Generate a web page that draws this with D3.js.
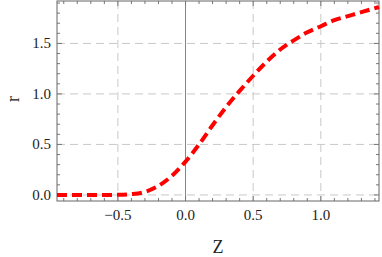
<!DOCTYPE html>
<html>
    <head>
        <meta charset="utf-8">
        <script src="https://d3js.org/d3.v7.min.js"></script>
        <style>
            body { margin: 0; background: #fff; }
            svg text { font-family: 'Liberation Serif', serif; fill: #222; }
        </style>
    </head>
    <body>
        <svg height='257' width='382'></svg>

        <script>
            // curve r(Z)
            const zValues = [-0.95, -0.8, -0.7, -0.6, -0.5, -0.4, -0.3, -0.2, -0.1, 0, 0.1, 0.2, 0.3, 0.4, 0.5, 0.6, 0.7, 0.8, 0.9, 1.0, 1.1, 1.2, 1.3, 1.43];
            const rValues = [0, 0, 0, 0, 0.001, 0.008, 0.03, 0.09, 0.19, 0.33, 0.5, 0.69, 0.87, 1.03, 1.18, 1.32, 1.44, 1.53, 1.61, 1.67, 1.73, 1.77, 1.81, 1.86];
            const xTicks = [-0.5, 0, 0.5, 1.0];
            const yTicks = [0, 0.5, 1.0, 1.5];

            const svg = d3.select('svg');
            const mLeft = 57, mRight = 379, mTop = 1, mBottom = 201;

            const x = d3.scaleLinear().domain([-0.95, 1.43]).range([mLeft, mRight]);
            const y = d3.scaleLinear().domain([-0.06, 1.92]).range([mBottom, mTop]);

            const data = zValues.map((z, i) => ({z, r: rValues[i]}));

            // grid
            svg.append('g').selectAll('line').data(xTicks.filter(d => d !== 0)).enter().append('line')
                .attr('x1', d => x(d)).attr('x2', d => x(d))
                .attr('y1', mTop).attr('y2', mBottom)
                .attr('stroke', '#c8c8c8').attr('stroke-dasharray', '8,5');
            svg.append('g').selectAll('line').data(yTicks).enter().append('line')
                .attr('x1', mLeft).attr('x2', mRight)
                .attr('y1', d => y(d)).attr('y2', d => y(d))
                .attr('stroke', '#c8c8c8').attr('stroke-dasharray', '8,5');

            // axis line at Z = 0
            svg.append('line')
                .attr('x1', x(0)).attr('x2', x(0)).attr('y1', mTop).attr('y2', mBottom)
                .attr('stroke', '#666').attr('stroke-width', 0.8);

            // frame with inward ticks on all sides
            const tickCol = '#777';
            const xMinor = d3.range(-0.9, 1.43, 0.1).map(d => +d.toFixed(1));
            const yMinor = d3.range(0, 1.92, 0.1).map(d => +d.toFixed(1));
            const isMajor = d => Math.abs(d * 2 - Math.round(d * 2)) < 1e-6;

            const frame = svg.append('g');
            xMinor.forEach(d => {
                const len = isMajor(d) ? 5 : 3;
                frame.append('line').attr('x1', x(d)).attr('x2', x(d)).attr('y1', mBottom).attr('y2', mBottom - len).attr('stroke', tickCol);
                frame.append('line').attr('x1', x(d)).attr('x2', x(d)).attr('y1', mTop).attr('y2', mTop + len).attr('stroke', tickCol);
            });
            yMinor.forEach(d => {
                const len = isMajor(d) ? 5 : 3;
                frame.append('line').attr('x1', mLeft).attr('x2', mLeft + len).attr('y1', y(d)).attr('y2', y(d)).attr('stroke', tickCol);
                frame.append('line').attr('x1', mRight).attr('x2', mRight - len).attr('y1', y(d)).attr('y2', y(d)).attr('stroke', tickCol);
            });
            frame.append('rect')
                .attr('x', mLeft).attr('y', mTop).attr('width', mRight - mLeft).attr('height', mBottom - mTop)
                .attr('fill', 'none').attr('stroke', '#666').attr('stroke-width', 1);

            // tick labels
            svg.append('g').selectAll('text').data(xTicks).enter().append('text')
                .attr('x', d => x(d)).attr('y', 220)
                .attr('text-anchor', 'middle').attr('font-size', 15)
                .text(d => d3.format('.1f')(d));
            svg.append('g').selectAll('text').data(yTicks).enter().append('text')
                .attr('x', 51).attr('y', d => y(d) + 5)
                .attr('text-anchor', 'end').attr('font-size', 15)
                .text(d => d3.format('.1f')(d));

            // axis titles
            svg.append('text').attr('x', (mLeft + mRight) / 2).attr('y', 253)
                .attr('text-anchor', 'middle').attr('font-size', 18).text('Z');
            svg.append('text').attr('transform', 'translate(19,99) rotate(-90)')
                .attr('text-anchor', 'middle').attr('font-size', 18).text('r');

            // curve
            const line = d3.line().x(d => x(d.z)).y(d => y(d.r)).curve(d3.curveMonotoneX);
            svg.append('path').datum(data)
                .attr('d', line)
                .attr('fill', 'none').attr('stroke', '#ff0000')
                .attr('stroke-width', 4).attr('stroke-dasharray', '10,5');
        </script>
    </body>
</html>
